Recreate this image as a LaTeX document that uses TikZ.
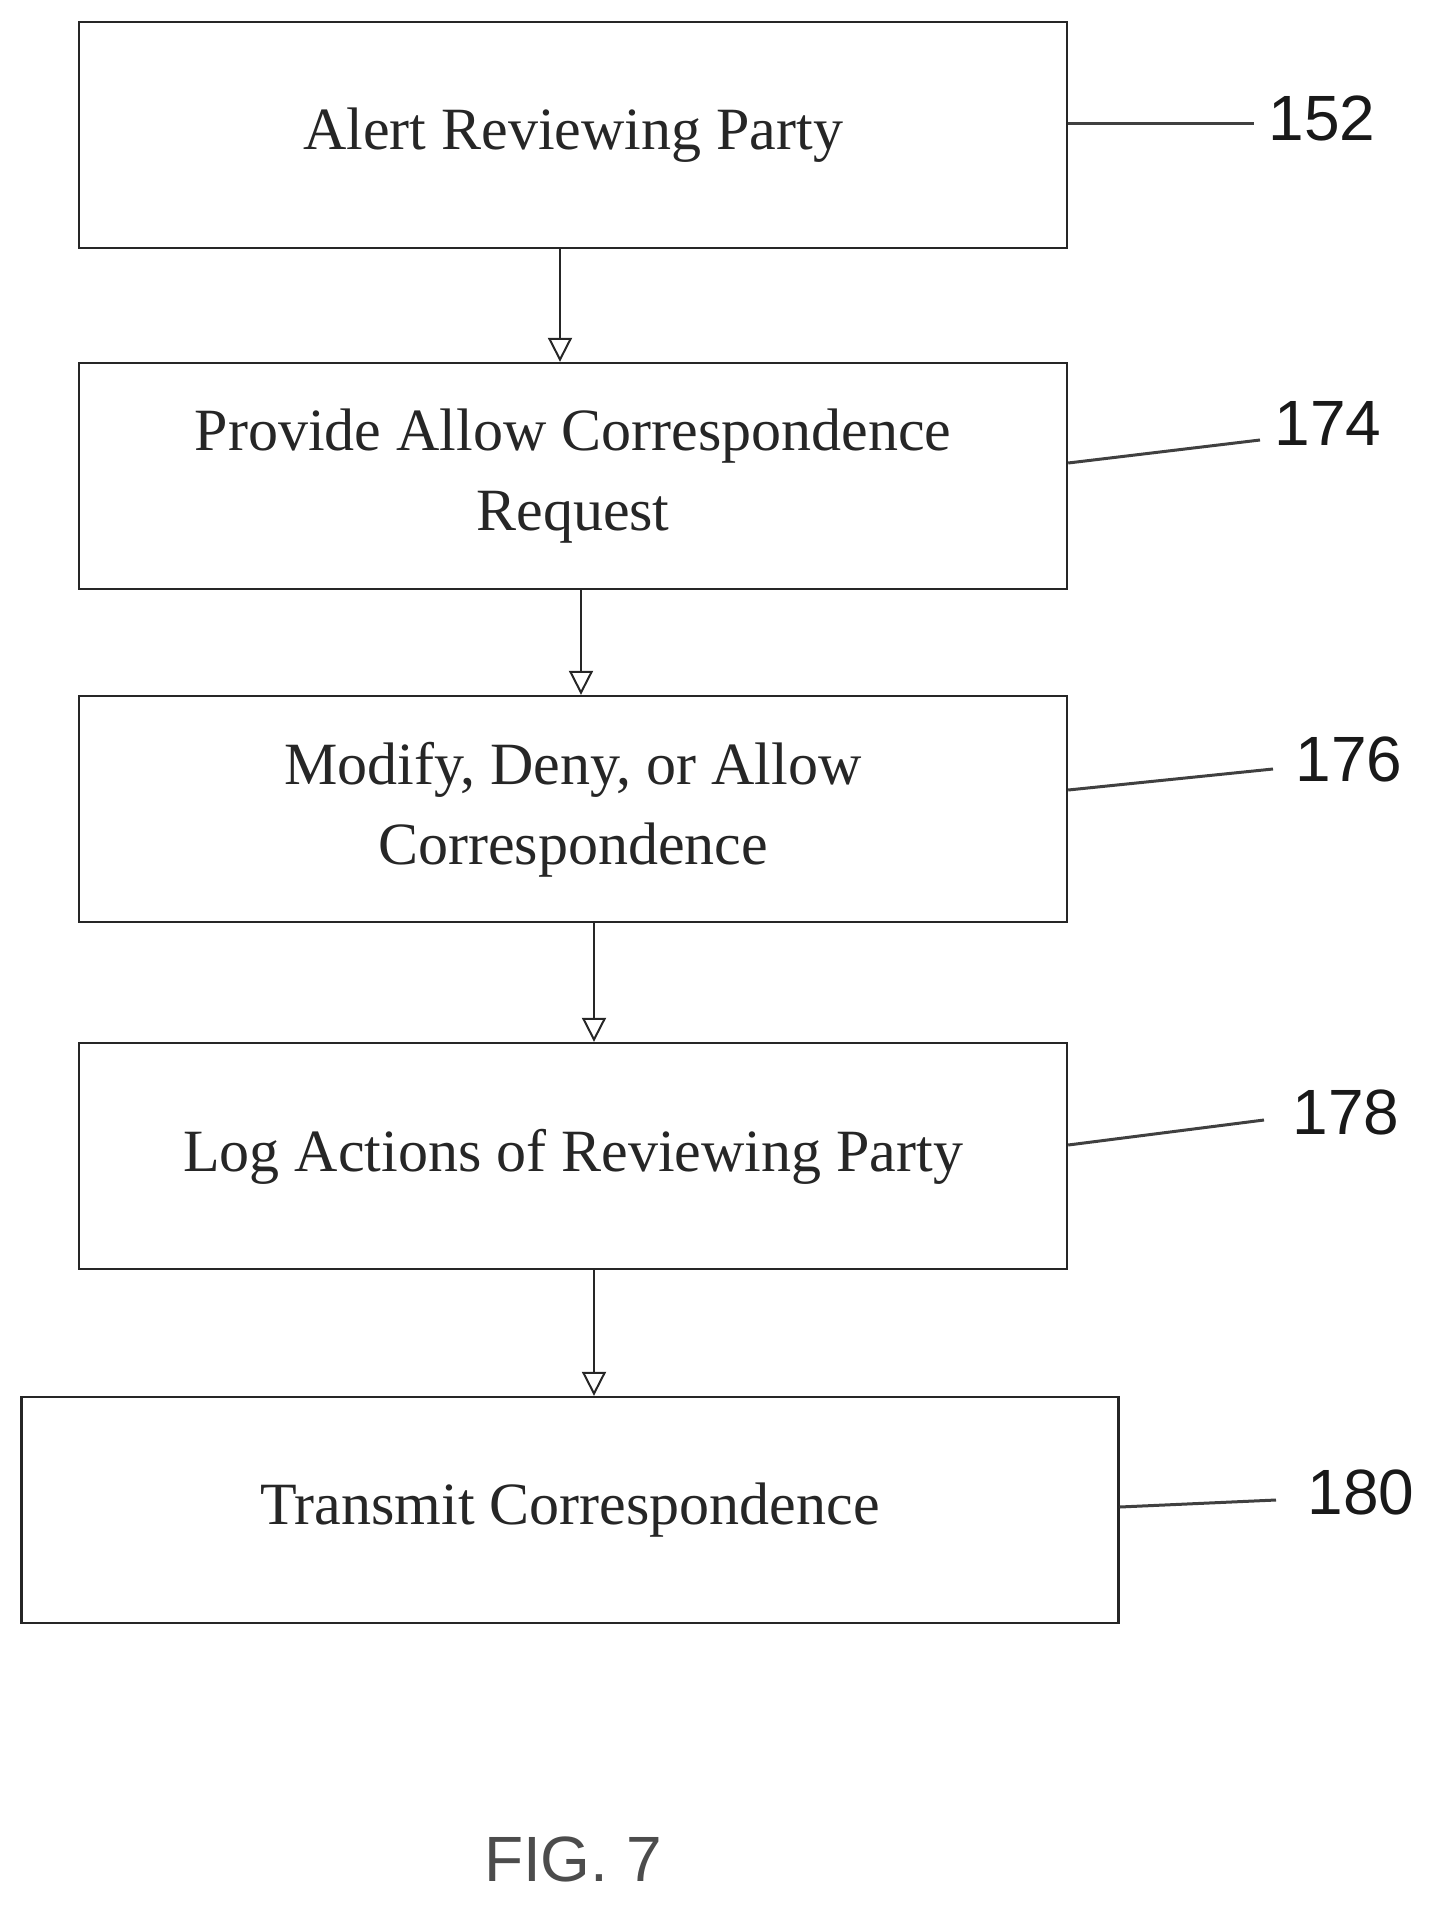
\documentclass[tikz,border=0pt]{standalone}
\usepackage{fontspec}
\setmainfont{Liberation Serif}
\newfontfamily\labelfont{Liberation Sans}
\usetikzlibrary{positioning,arrows.meta}

\tikzset{
  stepbox/.style={draw=black!85, line width=2.4pt, minimum height=226pt, align=center,
    font=\fontsize{60}{80}\selectfont, text=black!85, text depth=12pt},
  flow/.style={draw=black!85, line width=2pt, -{Triangle[width=24pt,length=24pt,open]}},
  lead/.style={draw=black!75, line width=3pt},
  refnum/.style={font=\labelfont\fontsize{64}{64}\selectfont, text=black!90},
}

\begin{document}
\begin{tikzpicture}[x=1pt,y=-1pt]
\useasboundingbox (0,0) rectangle (1442,1916);
% boxes
\node[stepbox, minimum width=988pt] (alert) at (573,135) {Alert Reviewing Party};
\node[stepbox, minimum width=988pt] (provide) at (573,476) {Provide Allow Correspondence\\Request};
\node[stepbox, minimum width=988pt] (modify) at (573,809) {Modify, Deny, or Allow\\Correspondence};
\node[stepbox, minimum width=988pt] (log) at (573,1156) {Log Actions of Reviewing Party};
\node[stepbox, minimum width=1097pt] (transmit) at (570,1510) {Transmit Correspondence};
% arrows
\draw[flow] ([xshift=-13pt]alert.south) -- ([xshift=-13pt]provide.north);
\draw[flow] ([xshift=8pt]provide.south) -- ([xshift=8pt]modify.north);
\draw[flow] ([xshift=21pt]modify.south) -- ([xshift=21pt]log.north);
\draw[flow] ([xshift=21pt]log.south) -- ([xshift=24pt]transmit.north);
% reference numerals
\node[refnum] (n152) at (1322,118) {152};
\node[refnum] (n174) at (1328,423) {174};
\node[refnum] (n176) at (1349,759) {176};
\node[refnum] (n178) at (1346,1112) {178};
\node[refnum] (n180) at (1361,1492) {180};
\coordinate (e152) at (1254,124);
\coordinate (e174) at (1260,440);
\coordinate (e176) at (1273,769);
\coordinate (e178) at (1264,1120);
\coordinate (e180) at (1276,1500);
\draw[lead] ([yshift=11pt]alert.east) -- (e152);
\draw[lead] ([yshift=13pt]provide.east) -- (e174);
\draw[lead] ([yshift=19pt]modify.east) -- (e176);
\draw[lead] ([yshift=11pt]log.east) -- (e178);
\draw[lead] ([yshift=3pt]transmit.east) -- (e180);
\node[refnum, text=black!70] (fig) at (573,1859) {FIG. 7};
\end{tikzpicture}
\end{document}
